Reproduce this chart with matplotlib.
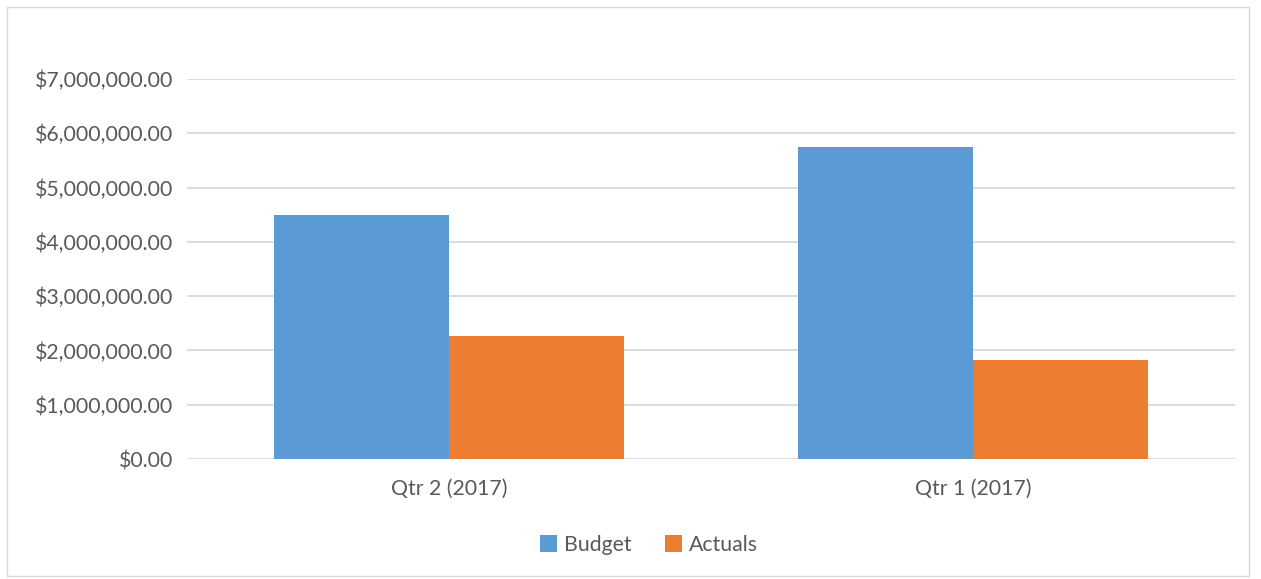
import matplotlib
matplotlib.use("Agg")
import matplotlib.pyplot as plt
from matplotlib.patches import Rectangle
from matplotlib.ticker import FuncFormatter
import numpy as np

categories = ["Qtr 2 (2017)", "Qtr 1 (2017)"]
budget = [4500000, 5750000]
actuals = [2270000, 1830000]
yticks = [0, 1000000, 2000000, 3000000, 4000000, 5000000, 6000000, 7000000]

BLUE = "#5B9BD5"
ORANGE = "#ED7D31"
TXT = "#595959"
GRID = "#D9D9D9"

plt.rcParams['font.family'] = ['Lato', 'DejaVu Sans']

W, H = 1261, 579
fig = plt.figure(figsize=(W/100, H/100), dpi=100)
fig.patches.append(Rectangle((7/W, 1 - 576/H), (1249-7)/W, (576-7)/H, transform=fig.transFigure,
                             fill=False, edgecolor="#D9D9D9", linewidth=1))

ax = fig.add_axes([187/W, 1 - 459/H, (1235-187)/W, (459-79)/H])
x = np.arange(len(categories))
bw = 1/3
ax.bar(x - bw/2, budget, bw, color=BLUE, label="Budget", zorder=3)
ax.bar(x + bw/2, actuals, bw, color=ORANGE, label="Actuals", zorder=3)
ax.set_xlim(-0.5, 1.5)
ax.set_ylim(0, 7000000)
ax.set_yticks(yticks)
ax.yaxis.set_major_formatter(FuncFormatter(lambda v, p: "${:,.2f}".format(v)))
ax.set_xticks(x)
ax.set_xticklabels(categories)
ax.tick_params(axis='both', length=0, colors=TXT, labelsize=15.3)
ax.tick_params(axis='y', pad=10)
ax.tick_params(axis='x', pad=14)
for s in ax.spines.values():
    s.set_visible(False)
ax.grid(axis='y', color=GRID, linewidth=1.3, zorder=0)
ax.set_axisbelow(True)

leg = fig.legend(loc='center', bbox_to_anchor=(649/W, 1 - 545/H), ncol=2, frameon=False,
                 fontsize=15.3, handlelength=0.8, handleheight=0.8, handletextpad=0.3,
                 columnspacing=1.6)
for t in leg.get_texts():
    t.set_color(TXT)

fig.savefig("out.png", dpi=100, facecolor="white")
